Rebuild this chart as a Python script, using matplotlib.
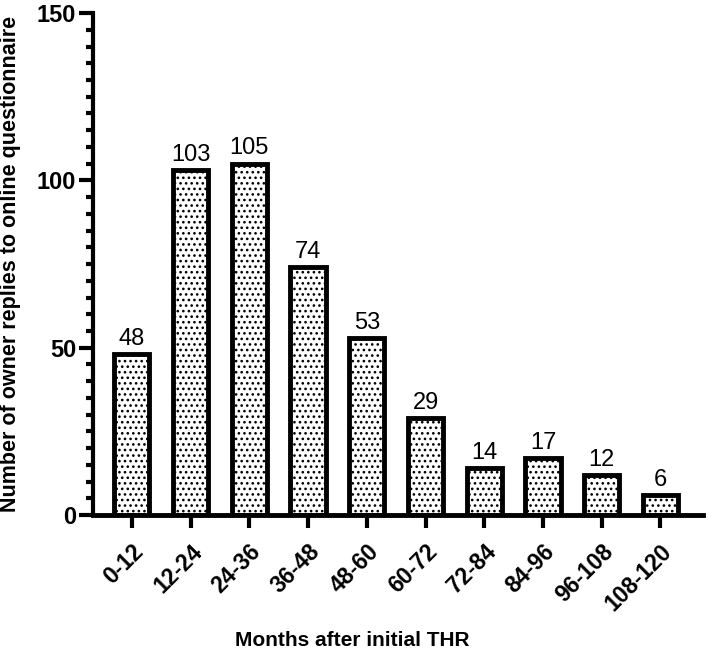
import matplotlib
matplotlib.use("Agg")
import matplotlib.pyplot as plt
from matplotlib.ticker import MultipleLocator

# months after THR and reply counts
categories = ["0-12", "12-24", "24-36", "36-48", "48-60", "60-72",
              "72-84", "84-96", "96-108", "108-120"]
replies = [48, 103, 105, 74, 53, 29, 14, 17, 12, 6]

plt.rcParams['font.family'] = ['Liberation Sans', 'DejaVu Sans']
plt.rcParams['hatch.linewidth'] = 1.1
plt.rcParams['hatch.color'] = '#6a6a6a'

fig = plt.figure(figsize=(7.09, 6.54), dpi=100)
ax = fig.add_axes([0.131, 0.2125, 0.861, 0.7675])

x = list(range(len(categories)))
ax.bar(x, replies, width=0.6, color='white', edgecolor='black',
       linewidth=3.5, hatch='...', zorder=2)

for xi, v in zip(x, replies):
    ax.annotate(str(v), (xi, v), xytext=(0, 3), textcoords='offset points',
                ha='center', va='bottom', fontsize=17)

ax.set_xlim(-0.664, 9.73)
ax.set_ylim(0, 150)
ax.yaxis.set_major_locator(MultipleLocator(50))
ax.yaxis.set_minor_locator(MultipleLocator(5))
ax.set_xticks(x)
ax.set_xticklabels(categories, rotation=45, ha='right', rotation_mode='anchor',
                   fontsize=16.5, fontweight='bold')
for lab in ax.get_yticklabels():
    lab.set_fontsize(17)
    lab.set_fontweight('bold')

for s in ['top', 'right']:
    ax.spines[s].set_visible(False)
ax.spines['left'].set_linewidth(3)
ax.spines['bottom'].set_linewidth(3.5)
ax.tick_params(axis='y', which='major', length=10, width=3, pad=2)
ax.tick_params(axis='y', which='minor', length=5, width=3)
ax.tick_params(axis='x', which='major', length=9, width=3, pad=9)

ax.set_ylabel("Number of owner replies to online questionnaire",
              fontsize=15.5, fontweight='bold')
ax.yaxis.set_label_coords(-0.118, 0.5)
ax.set_xlabel("Months after initial THR", fontsize=15, fontweight='bold')
ax.xaxis.set_label_coords(0.425, -0.232)

fig.savefig("out.png", dpi=100)
